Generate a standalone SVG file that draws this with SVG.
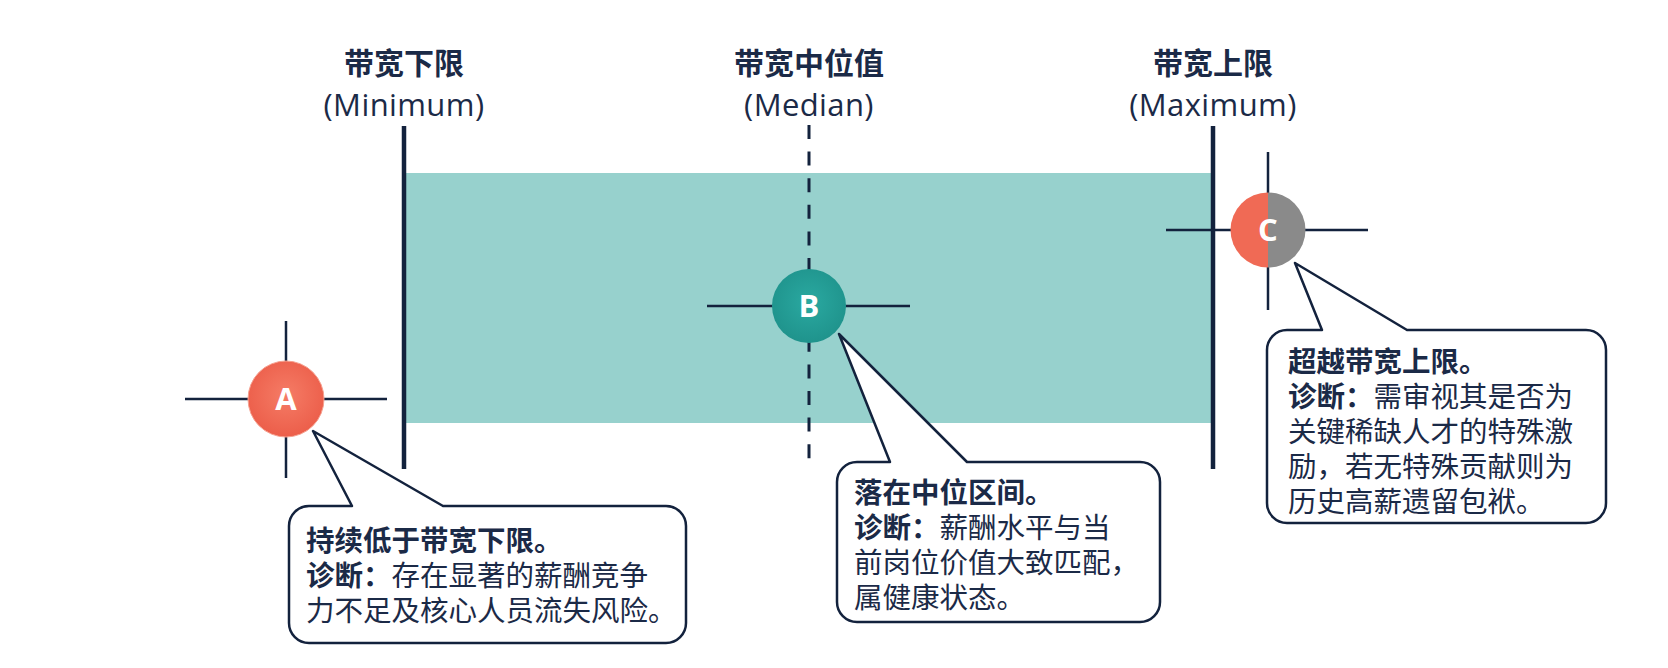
<svg xmlns="http://www.w3.org/2000/svg" width="1668" height="668" viewBox="0 0 1668 668">
<defs>
<style>
.title{font-family:"Noto Sans CJK SC","Noto Sans",sans-serif;font-weight:700;font-size:30px;fill:#1b2a47;text-anchor:middle}
.sub{font-family:"Open Sans","Noto Sans","Liberation Sans",sans-serif;font-weight:400;font-size:31px;letter-spacing:0.4px;fill:#1b2a47}
.bar{stroke:#13223d;stroke-width:4.5;fill:none}
.cross{stroke:#13223d;stroke-width:2.5;fill:none}
.bubble{fill:#ffffff;stroke:#13223d;stroke-width:2.5;stroke-linejoin:round}
.txt{font-family:"Noto Sans CJK SC","Noto Sans",sans-serif;font-size:28.5px;fill:#1b2a47}
.b{font-weight:700}
.letter{font-family:"Open Sans","Noto Sans","Liberation Sans",sans-serif;font-weight:700;font-size:31px;fill:#ffffff;text-anchor:middle}
</style>
<radialGradient id="gRed" cx="50%" cy="45%" r="55%">
<stop offset="0" stop-color="#f57c66"/>
<stop offset="1" stop-color="#ec5e4a"/>
</radialGradient>
<radialGradient id="gTeal" cx="50%" cy="45%" r="55%">
<stop offset="0" stop-color="#2aa9a1"/>
<stop offset="1" stop-color="#1f938c"/>
</radialGradient>
<clipPath id="cL"><rect x="1220" y="180" width="48" height="100"/></clipPath>
<clipPath id="cR"><rect x="1268" y="180" width="48" height="100"/></clipPath>
</defs>
<rect width="1668" height="668" fill="#ffffff"/>

<g id="band">
<rect x="406" y="173" width="806" height="250" fill="#97d1cd"/>
</g>

<g id="min">
<text class="title" x="404" y="74">带宽下限<tspan class="sub" x="404" y="116">(Minimum)</tspan></text>
<line class="bar" x1="404" y1="126" x2="404" y2="469"/>
</g>
<g id="median">
<text class="title" x="809" y="74">带宽中位值<tspan class="sub" x="809" y="116">(Median)</tspan></text>
<line x1="809" y1="125" x2="809" y2="470" stroke="#13223d" stroke-width="3" stroke-dasharray="14 12.6"/>
</g>
<g id="max">
<text class="title" x="1213" y="74">带宽上限<tspan class="sub" x="1213" y="116">(Maximum)</tspan></text>
<line class="bar" x1="1213" y1="126" x2="1213" y2="469"/>
</g>

<g id="connectors">
<path class="bubble" d="M352 506 L313 431 L443 506 H666 A20 20 0 0 1 686 526 V623 A20 20 0 0 1 666 643 H309 A20 20 0 0 1 289 623 V526 A20 20 0 0 1 309 506 Z"/>
<path class="bubble" d="M890 462 L839 334 L967 462 H1140 A20 20 0 0 1 1160 482 V602 A20 20 0 0 1 1140 622 H857 A20 20 0 0 1 837 602 V482 A20 20 0 0 1 857 462 Z"/>
<path class="bubble" d="M1322 330 L1295 263 L1407 330 H1586 A20 20 0 0 1 1606 350 V503 A20 20 0 0 1 1586 523 H1287 A20 20 0 0 1 1267 503 V350 A20 20 0 0 1 1287 330 Z"/>
</g>

<g id="nodeA">
<line class="cross" x1="185" y1="399" x2="387" y2="399"/>
<line class="cross" x1="286" y1="321" x2="286" y2="478"/>
<circle cx="286" cy="399" r="38" fill="url(#gRed)" stroke="#f6a08f" stroke-width="1"/>
<text class="letter" x="286" y="410">A</text>
</g>
<g id="nodeB">
<line class="cross" x1="707" y1="306" x2="910" y2="306"/>
<circle cx="809" cy="306" r="37" fill="url(#gTeal)"/>
<text class="letter" x="809" y="317">B</text>
</g>
<g id="nodeC">
<line class="cross" x1="1166" y1="230" x2="1368" y2="230"/>
<line class="cross" x1="1268" y1="152" x2="1268" y2="310"/>
<circle cx="1268" cy="230" r="37.5" fill="#f06a55" clip-path="url(#cL)"/>
<circle cx="1268" cy="230" r="37.5" fill="#8a8a8a" clip-path="url(#cR)"/>
<text class="letter" x="1268" y="241">C</text>
</g>

<g id="calloutA">
<text class="txt"><tspan class="b" x="306" y="551">持续低于带宽下限。</tspan><tspan class="b" x="306" y="586">诊断：</tspan><tspan>存在显著的薪酬竞争</tspan><tspan x="306" y="621">力不足及核心人员流失风险。</tspan></text>
</g>
<g id="calloutB">
<text class="txt"><tspan class="b" x="854" y="503">落在中位区间。</tspan><tspan class="b" x="854" y="538">诊断：</tspan><tspan>薪酬水平与当</tspan><tspan x="854" y="573">前岗位价值大致匹配，</tspan><tspan x="854" y="608">属健康状态。</tspan></text>
</g>
<g id="calloutC">
<text class="txt"><tspan class="b" x="1288" y="372">超越带宽上限。</tspan><tspan class="b" x="1288" y="407">诊断：</tspan><tspan>需审视其是否为</tspan><tspan x="1288" y="442">关键稀缺人才的特殊激</tspan><tspan x="1288" y="477">励，若无特殊贡献则为</tspan><tspan x="1288" y="512">历史高薪遗留包袱。</tspan></text>
</g>
</svg>
